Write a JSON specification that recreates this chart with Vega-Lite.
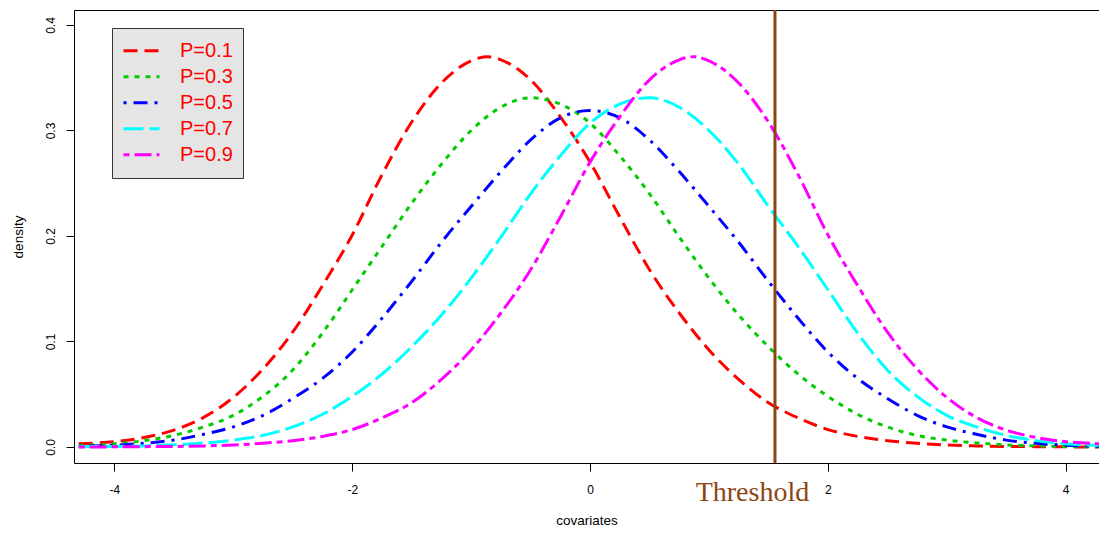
{
  "$schema": "https://vega.github.io/schema/vega-lite/v6.json",
  "width": 1025,
  "height": 453,
  "autosize": "none",
  "padding": {"left": 74, "top": 10, "right": 0, "bottom": 70},
  "background": "white",
  "config": {"view": {"stroke": null}, "font": "Liberation Sans"},
  "datasets": {
    "curves": [
      {"x": -4.3, "y": 0.003, "s": "P=0.1"}, {"x": -4, "y": 0.005, "s": "P=0.1"}, {"x": -3.75, "y": 0.009, "s": "P=0.1"}, {"x": -3.5, "y": 0.016, "s": "P=0.1"}, {"x": -3.25, "y": 0.028, "s": "P=0.1"}, {"x": -3, "y": 0.047, "s": "P=0.1"}, {"x": -2.75, "y": 0.074, "s": "P=0.1"}, {"x": -2.5, "y": 0.109, "s": "P=0.1"}, {"x": -2.25, "y": 0.153, "s": "P=0.1"}, {"x": -2, "y": 0.201, "s": "P=0.1"}, {"x": -1.75, "y": 0.258, "s": "P=0.1"}, {"x": -1.5, "y": 0.308, "s": "P=0.1"}, {"x": -1.25, "y": 0.345, "s": "P=0.1"}, {"x": -1, "y": 0.366, "s": "P=0.1"}, {"x": -0.875, "y": 0.37, "s": "P=0.1"}, {"x": -0.75, "y": 0.367, "s": "P=0.1"}, {"x": -0.5, "y": 0.348, "s": "P=0.1"}, {"x": -0.25, "y": 0.313, "s": "P=0.1"}, {"x": 0, "y": 0.27, "s": "P=0.1"}, {"x": 0.25, "y": 0.218, "s": "P=0.1"}, {"x": 0.5, "y": 0.168, "s": "P=0.1"}, {"x": 0.75, "y": 0.127, "s": "P=0.1"}, {"x": 1, "y": 0.092, "s": "P=0.1"}, {"x": 1.25, "y": 0.064, "s": "P=0.1"}, {"x": 1.5, "y": 0.042, "s": "P=0.1"}, {"x": 1.75, "y": 0.0275, "s": "P=0.1"}, {"x": 2, "y": 0.0165, "s": "P=0.1"}, {"x": 2.25, "y": 0.01, "s": "P=0.1"}, {"x": 2.5, "y": 0.006, "s": "P=0.1"}, {"x": 2.75, "y": 0.0035, "s": "P=0.1"}, {"x": 3, "y": 0.0018, "s": "P=0.1"}, {"x": 3.25, "y": 0.001, "s": "P=0.1"}, {"x": 3.5, "y": 0.0005, "s": "P=0.1"}, {"x": 3.75, "y": 0.0003, "s": "P=0.1"}, {"x": 4, "y": 0.0001, "s": "P=0.1"}, {"x": 4.3, "y": 0.0, "s": "P=0.1"},

      {"x": -4.3, "y": 0.0015, "s": "P=0.3"}, {"x": -4, "y": 0.003, "s": "P=0.3"}, {"x": -3.75, "y": 0.006, "s": "P=0.3"}, {"x": -3.5, "y": 0.011, "s": "P=0.3"}, {"x": -3.25, "y": 0.019, "s": "P=0.3"}, {"x": -3, "y": 0.03, "s": "P=0.3"}, {"x": -2.75, "y": 0.048, "s": "P=0.3"}, {"x": -2.5, "y": 0.073, "s": "P=0.3"}, {"x": -2.25, "y": 0.108, "s": "P=0.3"}, {"x": -2, "y": 0.149, "s": "P=0.3"}, {"x": -1.75, "y": 0.19, "s": "P=0.3"}, {"x": -1.5, "y": 0.231, "s": "P=0.3"}, {"x": -1.25, "y": 0.268, "s": "P=0.3"}, {"x": -1, "y": 0.3, "s": "P=0.3"}, {"x": -0.75, "y": 0.322, "s": "P=0.3"}, {"x": -0.5, "y": 0.331, "s": "P=0.3"}, {"x": -0.25, "y": 0.325, "s": "P=0.3"}, {"x": 0, "y": 0.307, "s": "P=0.3"}, {"x": 0.25, "y": 0.276, "s": "P=0.3"}, {"x": 0.5, "y": 0.24, "s": "P=0.3"}, {"x": 0.75, "y": 0.199, "s": "P=0.3"}, {"x": 1, "y": 0.16, "s": "P=0.3"}, {"x": 1.25, "y": 0.125, "s": "P=0.3"}, {"x": 1.5, "y": 0.095, "s": "P=0.3"}, {"x": 1.75, "y": 0.069, "s": "P=0.3"}, {"x": 2, "y": 0.048, "s": "P=0.3"}, {"x": 2.25, "y": 0.031, "s": "P=0.3"}, {"x": 2.5, "y": 0.019, "s": "P=0.3"}, {"x": 2.75, "y": 0.011, "s": "P=0.3"}, {"x": 3, "y": 0.0065, "s": "P=0.3"}, {"x": 3.25, "y": 0.0038, "s": "P=0.3"}, {"x": 3.5, "y": 0.002, "s": "P=0.3"}, {"x": 3.75, "y": 0.001, "s": "P=0.3"}, {"x": 4, "y": 0.0005, "s": "P=0.3"}, {"x": 4.3, "y": 0.0002, "s": "P=0.3"},

      {"x": -4.3, "y": 0.0007, "s": "P=0.5"}, {"x": -4, "y": 0.0017, "s": "P=0.5"}, {"x": -3.75, "y": 0.0035, "s": "P=0.5"}, {"x": -3.5, "y": 0.0065, "s": "P=0.5"}, {"x": -3.25, "y": 0.012, "s": "P=0.5"}, {"x": -3, "y": 0.019, "s": "P=0.5"}, {"x": -2.75, "y": 0.03, "s": "P=0.5"}, {"x": -2.5, "y": 0.046, "s": "P=0.5"}, {"x": -2.25, "y": 0.065, "s": "P=0.5"}, {"x": -2, "y": 0.09, "s": "P=0.5"}, {"x": -1.75, "y": 0.122, "s": "P=0.5"}, {"x": -1.5, "y": 0.157, "s": "P=0.5"}, {"x": -1.25, "y": 0.194, "s": "P=0.5"}, {"x": -1, "y": 0.228, "s": "P=0.5"}, {"x": -0.75, "y": 0.261, "s": "P=0.5"}, {"x": -0.5, "y": 0.291, "s": "P=0.5"}, {"x": -0.25, "y": 0.312, "s": "P=0.5"}, {"x": 0, "y": 0.319, "s": "P=0.5"}, {"x": 0.25, "y": 0.312, "s": "P=0.5"}, {"x": 0.5, "y": 0.291, "s": "P=0.5"}, {"x": 0.75, "y": 0.261, "s": "P=0.5"}, {"x": 1, "y": 0.228, "s": "P=0.5"}, {"x": 1.25, "y": 0.194, "s": "P=0.5"}, {"x": 1.5, "y": 0.157, "s": "P=0.5"}, {"x": 1.75, "y": 0.122, "s": "P=0.5"}, {"x": 2, "y": 0.09, "s": "P=0.5"}, {"x": 2.25, "y": 0.065, "s": "P=0.5"}, {"x": 2.5, "y": 0.046, "s": "P=0.5"}, {"x": 2.75, "y": 0.03, "s": "P=0.5"}, {"x": 3, "y": 0.019, "s": "P=0.5"}, {"x": 3.25, "y": 0.012, "s": "P=0.5"}, {"x": 3.5, "y": 0.0065, "s": "P=0.5"}, {"x": 3.75, "y": 0.0035, "s": "P=0.5"}, {"x": 4, "y": 0.0017, "s": "P=0.5"}, {"x": 4.3, "y": 0.0007, "s": "P=0.5"},

      {"x": -4.3, "y": 0.0002, "s": "P=0.7"}, {"x": -4, "y": 0.0005, "s": "P=0.7"}, {"x": -3.75, "y": 0.001, "s": "P=0.7"}, {"x": -3.5, "y": 0.002, "s": "P=0.7"}, {"x": -3.25, "y": 0.0038, "s": "P=0.7"}, {"x": -3, "y": 0.0065, "s": "P=0.7"}, {"x": -2.75, "y": 0.011, "s": "P=0.7"}, {"x": -2.5, "y": 0.019, "s": "P=0.7"}, {"x": -2.25, "y": 0.031, "s": "P=0.7"}, {"x": -2, "y": 0.048, "s": "P=0.7"}, {"x": -1.75, "y": 0.069, "s": "P=0.7"}, {"x": -1.5, "y": 0.095, "s": "P=0.7"}, {"x": -1.25, "y": 0.125, "s": "P=0.7"}, {"x": -1, "y": 0.16, "s": "P=0.7"}, {"x": -0.75, "y": 0.199, "s": "P=0.7"}, {"x": -0.5, "y": 0.24, "s": "P=0.7"}, {"x": -0.25, "y": 0.276, "s": "P=0.7"}, {"x": 0, "y": 0.307, "s": "P=0.7"}, {"x": 0.25, "y": 0.325, "s": "P=0.7"}, {"x": 0.5, "y": 0.331, "s": "P=0.7"}, {"x": 0.75, "y": 0.322, "s": "P=0.7"}, {"x": 1, "y": 0.3, "s": "P=0.7"}, {"x": 1.25, "y": 0.268, "s": "P=0.7"}, {"x": 1.5, "y": 0.228, "s": "P=0.7"}, {"x": 1.75, "y": 0.19, "s": "P=0.7"}, {"x": 2, "y": 0.149, "s": "P=0.7"}, {"x": 2.25, "y": 0.108, "s": "P=0.7"}, {"x": 2.5, "y": 0.073, "s": "P=0.7"}, {"x": 2.75, "y": 0.048, "s": "P=0.7"}, {"x": 3, "y": 0.03, "s": "P=0.7"}, {"x": 3.25, "y": 0.019, "s": "P=0.7"}, {"x": 3.5, "y": 0.011, "s": "P=0.7"}, {"x": 3.75, "y": 0.006, "s": "P=0.7"}, {"x": 4, "y": 0.003, "s": "P=0.7"}, {"x": 4.3, "y": 0.0015, "s": "P=0.7"},

      {"x": -4.3, "y": 0.0, "s": "P=0.9"}, {"x": -4, "y": 0.0001, "s": "P=0.9"}, {"x": -3.75, "y": 0.0003, "s": "P=0.9"}, {"x": -3.5, "y": 0.0005, "s": "P=0.9"}, {"x": -3.25, "y": 0.001, "s": "P=0.9"}, {"x": -3, "y": 0.0018, "s": "P=0.9"}, {"x": -2.75, "y": 0.0035, "s": "P=0.9"}, {"x": -2.5, "y": 0.006, "s": "P=0.9"}, {"x": -2.25, "y": 0.01, "s": "P=0.9"}, {"x": -2, "y": 0.0165, "s": "P=0.9"}, {"x": -1.75, "y": 0.0275, "s": "P=0.9"}, {"x": -1.5, "y": 0.042, "s": "P=0.9"}, {"x": -1.25, "y": 0.064, "s": "P=0.9"}, {"x": -1, "y": 0.092, "s": "P=0.9"}, {"x": -0.75, "y": 0.127, "s": "P=0.9"}, {"x": -0.5, "y": 0.168, "s": "P=0.9"}, {"x": -0.25, "y": 0.218, "s": "P=0.9"}, {"x": 0, "y": 0.27, "s": "P=0.9"}, {"x": 0.25, "y": 0.313, "s": "P=0.9"}, {"x": 0.5, "y": 0.348, "s": "P=0.9"}, {"x": 0.75, "y": 0.367, "s": "P=0.9"}, {"x": 0.875, "y": 0.37, "s": "P=0.9"}, {"x": 1, "y": 0.366, "s": "P=0.9"}, {"x": 1.25, "y": 0.345, "s": "P=0.9"}, {"x": 1.5, "y": 0.308, "s": "P=0.9"}, {"x": 1.75, "y": 0.258, "s": "P=0.9"}, {"x": 2, "y": 0.201, "s": "P=0.9"}, {"x": 2.25, "y": 0.153, "s": "P=0.9"}, {"x": 2.5, "y": 0.109, "s": "P=0.9"}, {"x": 2.75, "y": 0.074, "s": "P=0.9"}, {"x": 3, "y": 0.047, "s": "P=0.9"}, {"x": 3.25, "y": 0.028, "s": "P=0.9"}, {"x": 3.5, "y": 0.016, "s": "P=0.9"}, {"x": 3.75, "y": 0.009, "s": "P=0.9"}, {"x": 4, "y": 0.005, "s": "P=0.9"}, {"x": 4.3, "y": 0.003, "s": "P=0.9"}
    ],
    "threshold": [{"t": 1.555}],
    "note": [{"t": 1.3655, "v": -0.0509, "label": "Threshold"}]
  },
  "layer": [
    {
      "data": {"name": "curves"},
      "mark": {"type": "line", "strokeWidth": 3, "interpolate": "monotone", "clip": true, "strokeCap": "butt"},
      "encoding": {
        "x": {
          "field": "x", "type": "quantitative",
          "scale": {"domain": [-4.34, 4.28], "nice": false, "zero": false},
          "axis": {"orient": "bottom", "values": [-4, -2, 0, 2, 4], "labelExpr": "'' + datum.value", "grid": false, "tickSize": 8, "labelPadding": 13, "labelFontSize": 12, "labelColor": "#000000", "domainColor": "#000000", "tickColor": "#000000", "title": "covariates", "titleFontSize": 13.5, "titleFontWeight": "normal", "titleColor": "#000000", "titlePadding": 18, "labelFlush": false}
        },
        "y": {
          "field": "y", "type": "quantitative",
          "scale": {"domain": [-0.0152, 0.4142], "nice": false, "zero": false},
          "axis": {"orient": "left", "values": [0, 0.1, 0.2, 0.3, 0.4], "format": ".1f", "grid": false, "tickSize": 8, "labelAngle": 270, "labelAlign": "center", "labelBaseline": "alphabetic", "labelPadding": 12, "labelFontSize": 12, "labelColor": "#000000", "domainColor": "#000000", "tickColor": "#000000", "title": "density", "titleFontSize": 13.5, "titleFontWeight": "normal", "titleColor": "#000000", "titlePadding": 19, "labelFlush": false}
        },
        "color": {
          "field": "s", "type": "nominal",
          "scale": {"domain": ["P=0.1", "P=0.3", "P=0.5", "P=0.7", "P=0.9"], "range": ["#FF0000", "#00CD00", "#0000FF", "#00FFFF", "#FF00FF"]},
          "legend": {"orient": "none", "legendX": 38, "legendY": 18, "title": null, "fillColor": "#E5E5E5", "strokeColor": "#333333", "padding": 10, "labelColor": "#FF0000", "labelFontSize": 20, "labelFont": "Liberation Sans", "symbolType": "stroke", "symbolSize": 1296, "symbolStrokeWidth": 3, "labelOffset": 19, "clipHeight": 25.4, "rowPadding": 0}
        },
        "strokeDash": {
          "field": "s", "type": "nominal",
          "scale": {"domain": ["P=0.1", "P=0.3", "P=0.5", "P=0.7", "P=0.9"], "range": [[14, 7], [5, 6], [3, 7, 14, 7], [20, 6], [6, 5, 17, 5]]},
          "legend": {"orient": "none", "legendX": 38, "legendY": 18, "title": null, "fillColor": "#E5E5E5", "strokeColor": "#333333", "padding": 10, "labelColor": "#FF0000", "labelFontSize": 20, "labelFont": "Liberation Sans", "symbolType": "stroke", "symbolSize": 1296, "symbolStrokeWidth": 3, "labelOffset": 19, "clipHeight": 25.4, "rowPadding": 0}
        }
      }
    },
    {
      "data": {"name": "threshold"},
      "mark": {"type": "rule", "color": "#8B4513", "strokeWidth": 3},
      "encoding": {
        "x": {
          "field": "t", "type": "quantitative",
          "axis": {"orient": "top", "labels": false, "ticks": false, "domain": true, "domainColor": "#000000", "grid": false, "title": null}
        }
      }
    },
    {
      "data": {"name": "note"},
      "mark": {"type": "text", "font": "Liberation Serif", "fontSize": 28, "color": "#8B4513", "align": "center", "baseline": "alphabetic", "clip": false},
      "encoding": {
        "x": {"field": "t", "type": "quantitative", "axis": null},
        "y": {"field": "v", "type": "quantitative", "axis": null},
        "text": {"field": "label"}
      }
    }
  ],
  "resolve": {"axis": {"x": "independent", "y": "independent"}}
}
